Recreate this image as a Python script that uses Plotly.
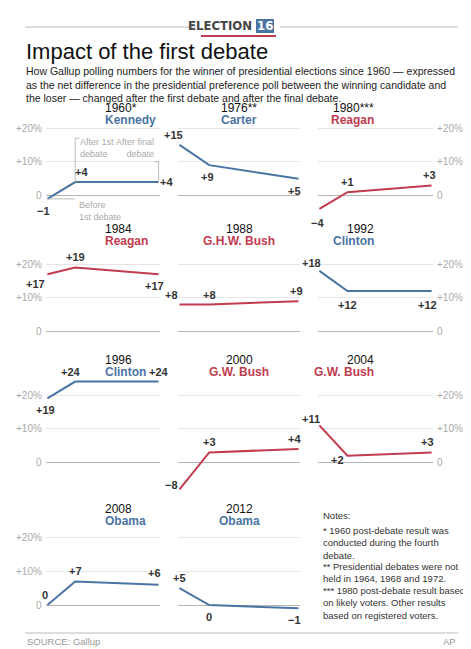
import plotly.graph_objects as go

W, H = 471, 649

years = ["1960*", "1976**", "1980***", "1984", "1988", "1992", "1996", "2000", "2004", "2008", "2012"]
winners = ["Kennedy", "Carter", "Reagan", "Reagan", "G.H.W. Bush", "Clinton", "Clinton",
           "G.W. Bush", "G.W. Bush", "Obama", "Obama"]
party = ["D", "D", "R", "R", "R", "D", "D", "R", "R", "D", "D"]
stages = [0, 1, 4]  # before 1st debate, after 1st debate, after final debate
before = [-1, 15, -4, 17, 8, 18, 19, -8, 11, 0, 5]
after_first = [4, 9, 1, 19, 8, 12, 24, 3, 2, 7, 0]
after_final = [4, 5, 3, 17, 9, 12, 24, 4, 3, 6, -1]
grid_ticks = [0, 10, 20]
tick_text = ["0", "+10%", "+20%"]
notes = [
    "Notes:",
    "* 1960 post-debate result was<br>conducted during the fourth<br>debate.",
    "** Presidential debates were not<br>held in 1964, 1968 and 1972.",
    "*** 1980 post-debate result based<br>on likely voters. Other results<br>based on registered voters.",
]

BLUE = "#4a74a3"
RED = "#c23b4e"
DARK = "#333333"
FONT = "Liberation Sans"

zero_px = [187.5, 323.5, 454.5, 597]
title_px = [100, 221, 352, 501]
col_px = [(38, 152), (170, 292), (310, 425)]
YMIN, YMAX, PPU = -10, 26, 3.37

# label placement per panel: (xshift, yshift) for each of the 3 points
label_off = [
    [(-4, -12), (6, 10), (8, 0)],
    [(-6, 10), (-2, -12), (-4, -12)],
    [(-2, -14), (0, 10), (-2, 10)],
    [(-12, -10), (0, 10), (-4, -12)],
    [(-8, 10), (0, 10), (-2, 10)],
    [(-8, 8), (0, -14), (-4, -14)],
    [(-2, -12), (-4, 10), (0, 10)],
    [(-8, 4), (0, 10), (-4, 10)],
    [(-8, 6), (-10, -4), (-4, 10)],
    [(-2, 10), (0, 10), (-4, 12)],
    [(0, 10), (0, -12), (-4, -12)],
]


def fmt(v):
    if v > 0:
        return f"+{v}"
    if v < 0:
        return f"\u2212{v * -1}"
    return "0"


def py(p):
    return 1 - p / H


fig = go.Figure()
ann = []
shapes = []
for i in range(11):
    r, c = divmod(i, 3)
    n = i + 1
    xa = "xaxis" if n == 1 else f"xaxis{n}"
    ya = "yaxis" if n == 1 else f"yaxis{n}"
    xr = "x" if n == 1 else f"x{n}"
    yr = "y" if n == 1 else f"y{n}"
    x0, x1 = col_px[c]
    top = zero_px[r] - YMAX * PPU
    bot = zero_px[r] - YMIN * PPU
    fig.update_layout({
        xa: dict(domain=[x0 / W, x1 / W], range=[-0.05, 4.05], visible=False, anchor=yr),
        ya: dict(domain=[py(bot), py(top)], range=[YMIN, YMAX], anchor=xr,
                 tickvals=grid_ticks, showticklabels=False, showgrid=True,
                 gridcolor="#e6e6e6", gridwidth=1, zeroline=True, zerolinecolor="#b5b5b5",
                 zerolinewidth=1, showline=False, ticks=""),
    })
    color = BLUE if party[i] == "D" else RED
    vals = [before[i], after_first[i], after_final[i]]
    fig.add_trace(go.Scatter(x=stages, y=vals, mode="lines", xaxis=xr, yaxis=yr,
                             line=dict(color=color, width=2), hoverinfo="skip",
                             showlegend=False))
    for k in range(3):
        dx, dy = label_off[i][k]
        ann.append(dict(x=stages[k], y=vals[k], xref=xr, yref=yr, text=f"<b>{fmt(vals[k])}</b>",
                        showarrow=False, xshift=dx, yshift=dy, yanchor="middle",
                        font=dict(family=FONT, size=11, color=DARK)))
    cx = (x0 + x1) / 2 / W
    ann.append(dict(x=cx, y=py(title_px[r]), xref="paper", yref="paper",
                    text=years[i], showarrow=False, yanchor="middle",
                    font=dict(family=FONT, size=12, color="#111111")))
    ann.append(dict(x=cx, y=py(title_px[r] + 12), xref="paper", yref="paper",
                    text=f"<b>{winners[i]}</b>", showarrow=False, yanchor="middle",
                    font=dict(family=FONT, size=12, color=color)))

# y tick labels
for r in range(4):
    for v, t in zip(grid_ticks, tick_text):
        yp = py(zero_px[r] - v * PPU)
        ann.append(dict(x=36 / W, y=yp, xref="paper", yref="paper", text=t, showarrow=False,
                        xanchor="right", yanchor="middle",
                        font=dict(family=FONT, size=10, color="#aaaaaa")))
        if r < 3:
            ann.append(dict(x=427 / W, y=yp, xref="paper", yref="paper", text=t, showarrow=False,
                            xanchor="left", yanchor="middle",
                            font=dict(family=FONT, size=10, color="#aaaaaa")))

# Kennedy explainer
lc = dict(color="#bbbbbb", width=1)
shapes += [
    dict(type="line", xref="x", yref="y", x0=1, x1=1, y0=4, y1=17, line=lc),
    dict(type="line", xref="x", yref="y", x0=1, x1=1.15, y0=17, y1=17, line=lc),
    dict(type="line", xref="x", yref="y", x0=4, x1=4, y0=4, y1=10, line=lc),
    dict(type="line", xref="x", yref="y", x0=3.85, x1=4, y0=10, y1=10, line=lc),
    dict(type="line", xref="x", yref="y", x0=0, x1=1.0, y0=-1, y1=-1, line=lc),
]
sm = dict(family=FONT, size=9, color="#aaaaaa")
ann += [
    dict(x=1.1, y=14, xref="x", yref="y", text="After 1st<br>debate", showarrow=False,
         xanchor="left", yanchor="middle", align="left", font=sm),
    dict(x=3.9, y=14, xref="x", yref="y", text="After final<br>debate", showarrow=False,
         xanchor="right", yanchor="middle", align="right", font=sm),
    dict(x=1.05, y=-4.5, xref="x", yref="y", text="Before<br>1st debate", showarrow=False,
         xanchor="left", yanchor="middle", align="left", font=sm),
]

# header
shapes += [
    dict(type="line", xref="paper", yref="paper", x0=17 / W, x1=188 / W, y0=py(19), y1=py(19), line=lc),
    dict(type="line", xref="paper", yref="paper", x0=272 / W, x1=450 / W, y0=py(19), y1=py(19), line=lc),
    dict(type="rect", xref="paper", yref="paper", x0=248 / W, x1=266 / W, y0=py(25), y1=py(11),
         fillcolor=BLUE, line=dict(width=0)),
    dict(type="rect", xref="paper", yref="paper", x0=193 / W, x1=268 / W, y0=py(29), y1=py(27),
         fillcolor=RED, line=dict(width=0)),
    dict(type="line", xref="paper", yref="paper", x0=17 / W, x1=450 / W, y0=py(625), y1=py(625), line=lc),
]
ann += [
    dict(x=246 / W, y=py(18), xref="paper", yref="paper", text="<b>ELECTION</b>", showarrow=False,
         xanchor="right", yanchor="middle",
         font=dict(family="DejaVu Sans Condensed", size=13, color="#444444")),
    dict(x=257 / W, y=py(18), xref="paper", yref="paper", text="<b>16</b>", showarrow=False,
         yanchor="middle", font=dict(family="DejaVu Sans Condensed", size=13, color="white")),
    dict(x=16 / W, y=py(43), xref="paper", yref="paper", text="Impact of the first debate",
         showarrow=False, xanchor="left", yanchor="middle",
         font=dict(family=FONT, size=22, color="#111111")),
    dict(x=16 / W, y=py(55), xref="paper", yref="paper", yanchor="top", align="left",
         text="How Gallup polling numbers for the winner of presidential elections since 1960 \u2014 expressed<br>"
              "as the net difference in the presidential preference poll between the winning candidate and<br>"
              "the loser \u2014 changed after the first debate and after the final debate.",
         showarrow=False, xanchor="left", font=dict(family=FONT, size=10.5, color="#222222")),
    dict(x=17 / W, y=py(633), xref="paper", yref="paper", text="SOURCE: Gallup", showarrow=False,
         xanchor="left", yanchor="middle", font=dict(family=FONT, size=9.5, color="#999999")),
    dict(x=450 / W, y=py(633), xref="paper", yref="paper", text="AP", showarrow=False,
         xanchor="right", yanchor="middle", font=dict(family=FONT, size=9.5, color="#999999")),
]
for note, top in zip(notes, [500, 515, 551, 575]):
    ann.append(dict(x=313 / W, y=py(top), xref="paper", yref="paper", yanchor="top", align="left",
                    text=note, showarrow=False, xanchor="left",
                    font=dict(family=FONT, size=9.5, color="#333333")))

fig.update_layout(width=W, height=H, margin=dict(l=0, r=0, t=0, b=0), plot_bgcolor="white",
                  paper_bgcolor="white", annotations=ann, shapes=shapes, showlegend=False)
fig.write_html("out.html")
